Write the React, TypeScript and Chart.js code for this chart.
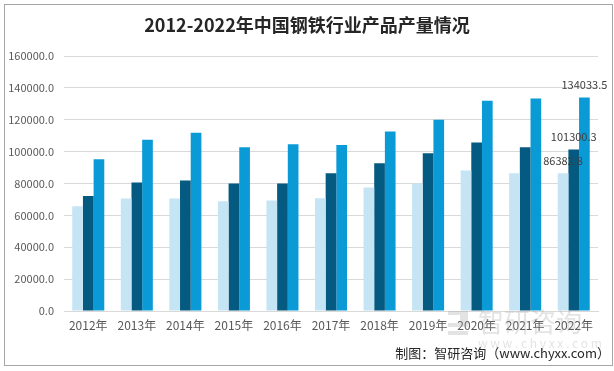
import React, { useEffect, useRef } from "react";
import { Chart, registerables } from "chart.js";

Chart.register(...registerables);

const TITLE = "2012-2022年中国钢铁行业产品产量情况";
const FOOTER = "制图：智研咨询（www.chyxx.com）";
const CATEGORIES = ["2012年", "2013年", "2014年", "2015年", "2016年", "2017年", "2018年", "2019年", "2020年", "2021年", "2022年"];
const SERIES_A = [65800, 70600, 70600, 68800, 69400, 70800, 77500, 80000, 88100, 86500, 86382.8];
const SERIES_B = [72100, 80600, 81900, 80000, 80000, 86400, 92700, 99000, 105800, 102700, 101300.3];
const SERIES_C = [95200, 107500, 111900, 102700, 104600, 104200, 112700, 120000, 131900, 133300, 134033.5];
const Y_MIN = 0;
const Y_MAX = 160000;
const Y_STEP = 20000;

const COLORS = ["#c5e5f5", "#045a80", "#0a9bd7"];
const FONT = "'Noto Sans CJK SC', 'Liberation Sans', sans-serif";

const decorPlugin = {
  id: "decor",
  beforeDraw(chart: any) {
    const ctx = chart.ctx;
    ctx.save();
    ctx.fillStyle = "#ffffff";
    ctx.fillRect(0, 0, chart.width, chart.height);
    ctx.restore();
  },
  afterDraw(chart: any) {
    const ctx = chart.ctx;
    ctx.save();
    // border
    ctx.strokeStyle = "#a6a6a6";
    ctx.lineWidth = 1;
    ctx.strokeRect(4.5, 4.5, 608, 361);
    // title
    ctx.fillStyle = "#262626";
    ctx.font = `bold 18px ${FONT}`;
    ctx.textAlign = "center";
    ctx.textBaseline = "middle";
    ctx.fillText(TITLE, 307, 25);
    // watermark
    ctx.globalAlpha = 0.28;
    ctx.fillStyle = "#9a9a9a";
    ctx.font = `26px ${FONT}`;
    ctx.textAlign = "left";
    ctx.fillText("智研咨询", 478, 322);
    ctx.font = `12px ${FONT}`;
    ctx.fillText("w w w . c h y x x . c o m", 478, 343);
    ctx.fillRect(448, 311, 20, 4);
    ctx.fillRect(460, 315, 8, 8);
    ctx.fillRect(448, 323, 20, 4);
    ctx.fillRect(448, 331, 20, 4);
    ctx.globalAlpha = 1;
    // footer
    ctx.fillStyle = "#262626";
    ctx.font = `13px ${FONT}`;
    ctx.textAlign = "right";
    ctx.fillText(FOOTER, 610, 353);
    // data labels for last category
    const last = CATEGORIES.length - 1;
    ctx.font = `11px ${FONT}`;
    ctx.textAlign = "center";
    ctx.fillStyle = "#404040";
    chart.data.datasets.forEach((ds: any, i: number) => {
      const meta = chart.getDatasetMeta(i);
      const el = meta.data[last];
      if (!el) return;
      ctx.fillText(ds.data[last].toFixed(1), el.x, el.y - 13);
    });
    ctx.restore();
  },
};

export default function App() {
  const ref = useRef<HTMLCanvasElement>(null);
  useEffect(() => {
    if (!ref.current) return;
    const chart = new Chart(ref.current, {
      type: "bar",
      data: {
        labels: CATEGORIES,
        datasets: [
          { label: "A", data: SERIES_A, backgroundColor: COLORS[0] },
          { label: "B", data: SERIES_B, backgroundColor: COLORS[1] },
          { label: "C", data: SERIES_C, backgroundColor: COLORS[2] },
        ],
      },
      options: {
        responsive: false,
        animation: false,
        devicePixelRatio: 1,
        layout: { padding: { top: 56, right: 16, left: 0, bottom: 0 } },
        datasets: { bar: { categoryPercentage: 0.66, barPercentage: 1.0 } },
        plugins: { legend: { display: false }, tooltip: { enabled: false }, title: { display: false } },
        scales: {
          x: {
            grid: { display: false, drawTicks: false },
            border: { color: "#d9d9d9" },
            ticks: { color: "#595959", font: { size: 12, family: FONT }, padding: 7, maxRotation: 0, autoSkip: false },
            afterFit: (s: any) => { s.height = 60; },
          },
          y: {
            min: Y_MIN,
            max: Y_MAX,
            grid: { color: "#d9d9d9", drawTicks: false },
            border: { display: false },
            ticks: {
              stepSize: Y_STEP,
              color: "#595959",
              font: { size: 11, family: FONT },
              padding: 10,
              callback: (v: any) => Number(v).toFixed(1),
            },
            afterFit: (s: any) => { s.width = 64; },
          },
        },
      },
      plugins: [decorPlugin],
    });
    return () => chart.destroy();
  }, []);
  return (
    <div style={{ position: "absolute", left: 0, top: 0, width: 614, height: 371 }}>
      <canvas ref={ref} width={614} height={371} style={{ display: "block" }} />
    </div>
  );
}
